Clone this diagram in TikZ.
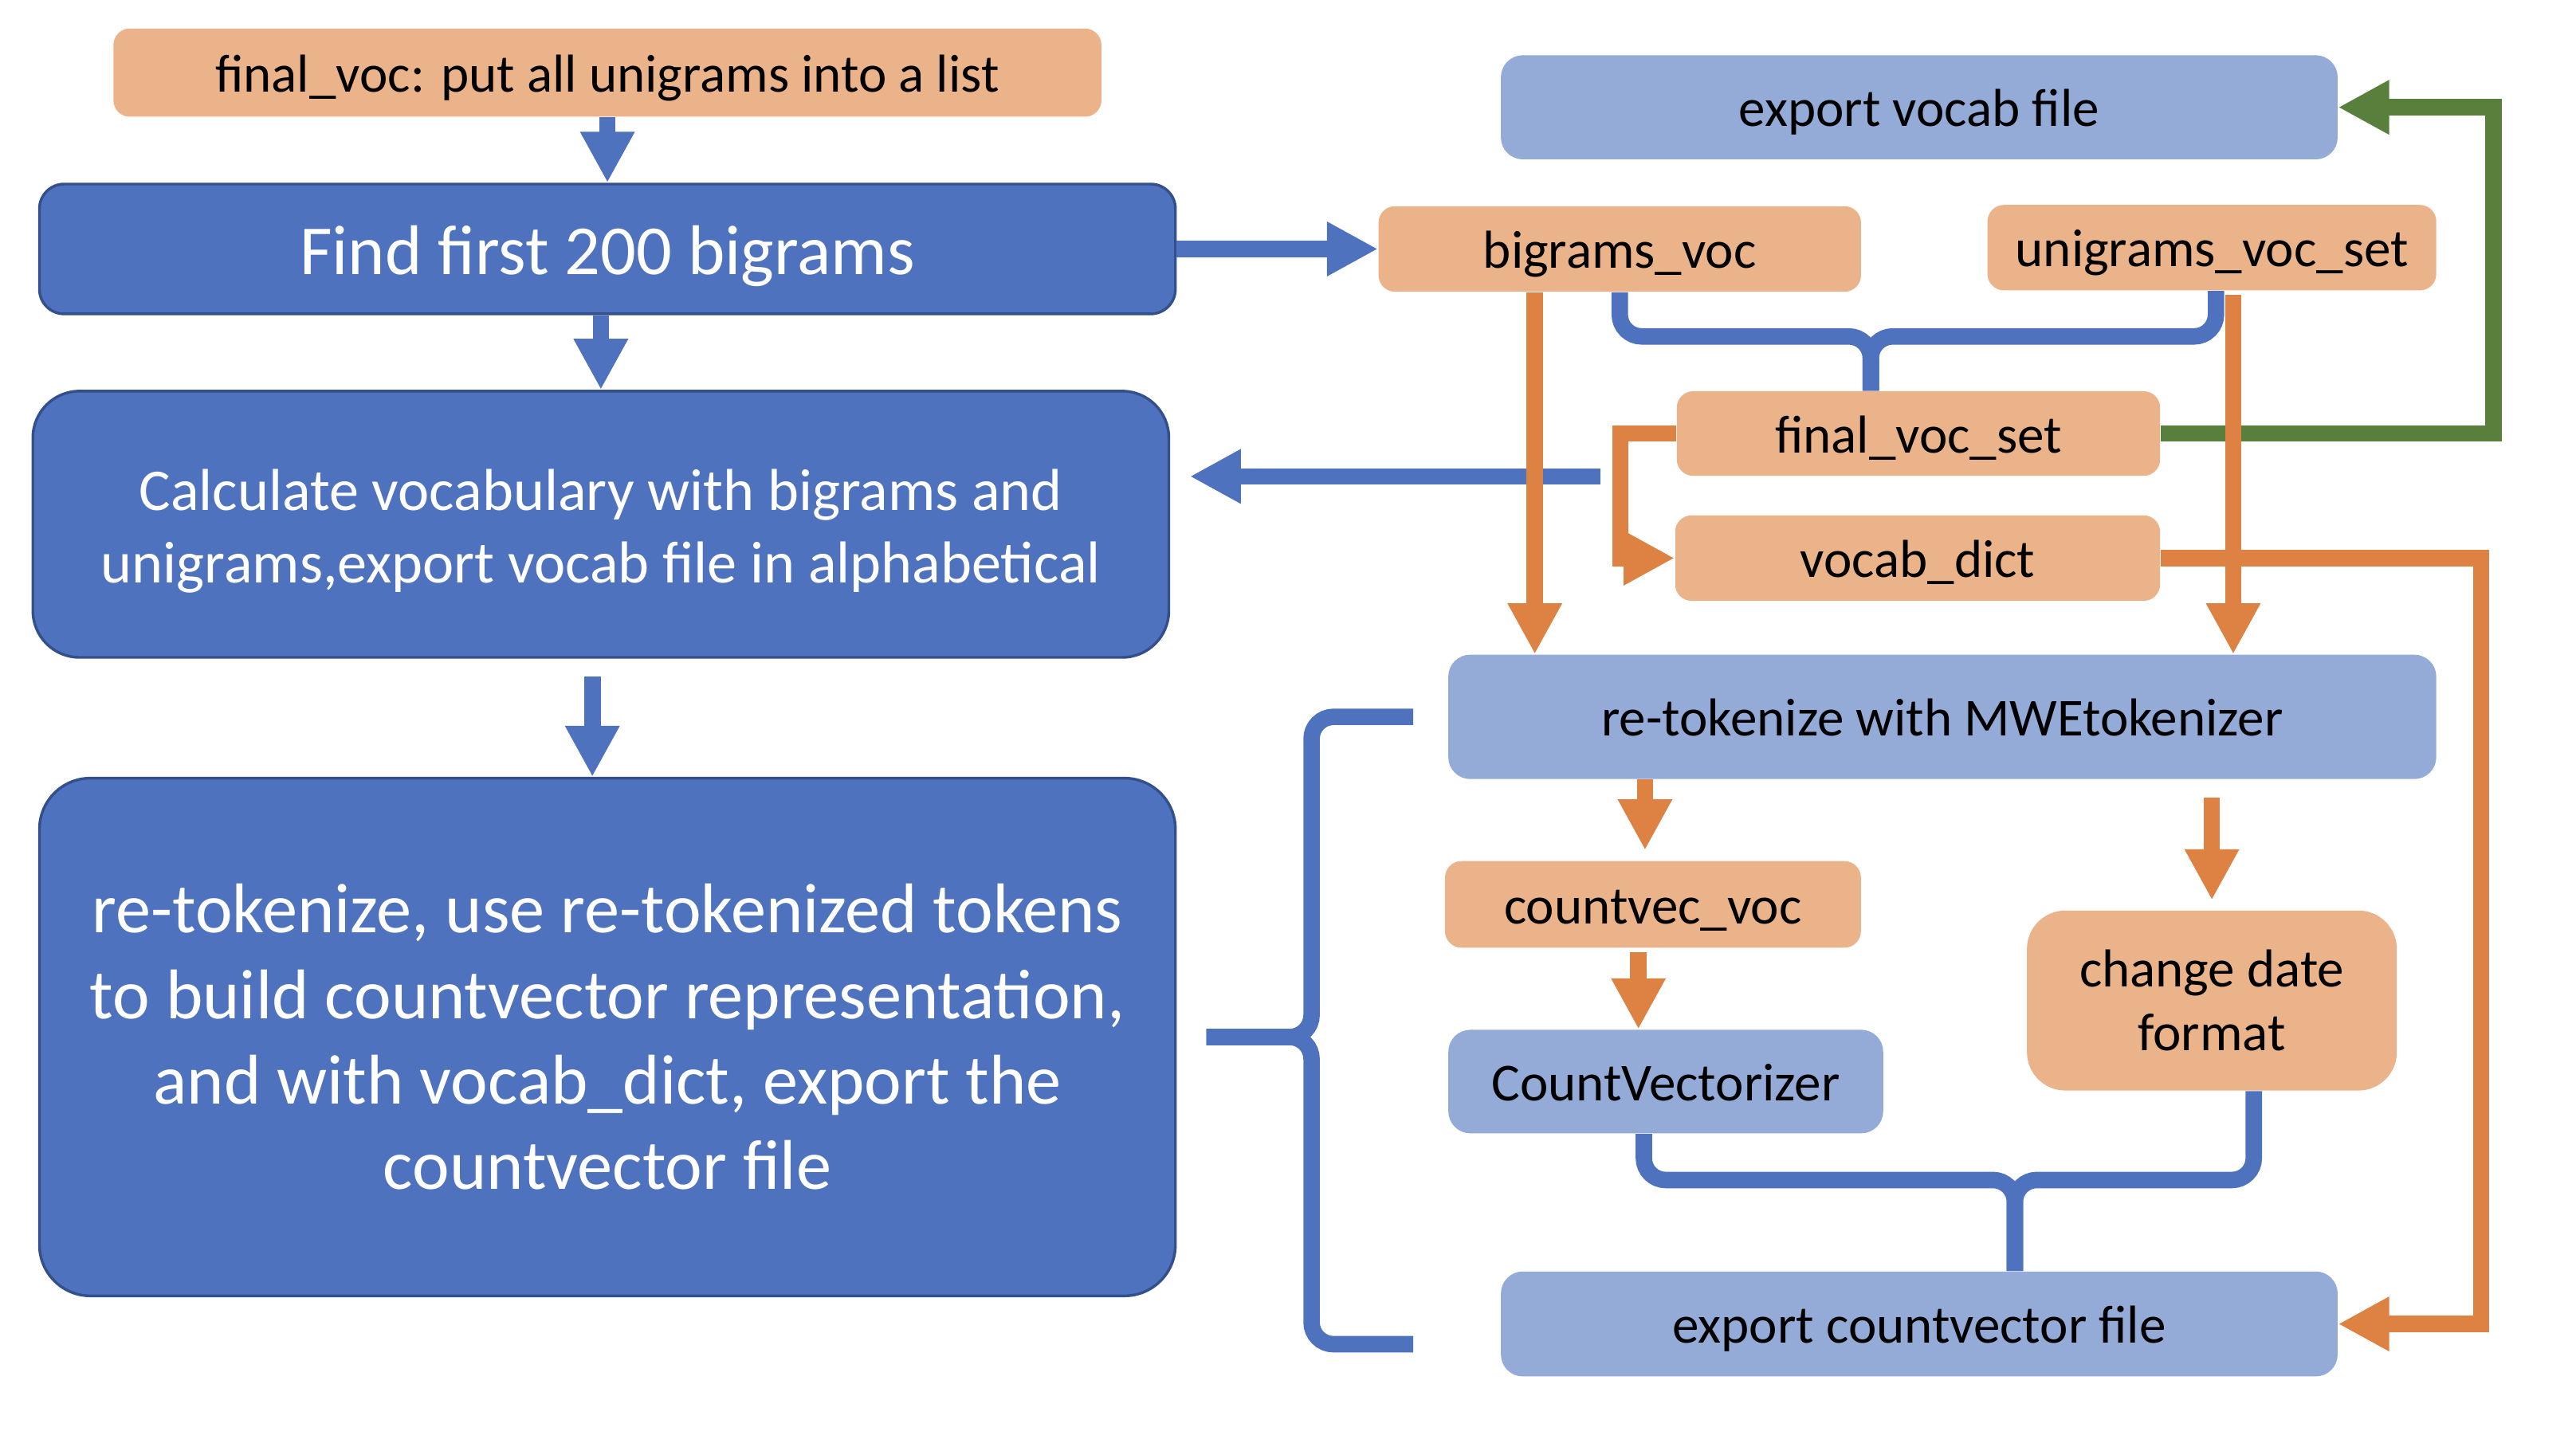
\documentclass[tikz,border=0pt]{standalone}
\usepackage{fontspec}
\setmainfont{Carlito}
\usepackage{tikz}
\usetikzlibrary{arrows.meta}

\definecolor{boxorange}{RGB}{235,179,138}
\definecolor{lineorange}{RGB}{221,130,67}
\definecolor{darkblue}{RGB}{78,114,190}
\definecolor{borderblue}{RGB}{51,80,140}
\definecolor{lightblue}{RGB}{148,171,216}
\definecolor{darkgreen}{RGB}{88,128,60}

\newcommand{\smalltxt}{\fontsize{19.5}{23.4}\selectfont}
\newcommand{\midtxt}{\fontsize{21.6}{26.4}\selectfont}
\newcommand{\bigtxt}{\fontsize{25.7}{31.2}\selectfont}

\tikzset{
  obox/.style={fill=boxorange, rounded corners=6pt, inner sep=0pt, align=center, font=\smalltxt},
  lbbox/.style={fill=lightblue, rounded corners=8pt, inner sep=0pt, align=center, font=\smalltxt},
  dbbox/.style={fill=darkblue, draw=borderblue, line width=1pt, rounded corners=9pt, inner sep=0pt, align=center, text=white},
  oneline/.style={text height=17.9pt, text depth=3.9pt},
  barrow/.style={draw=darkblue, line width=6pt, -{Triangle[length=18.6pt,width=18.6pt]}},
  oarrow/.style={draw=lineorange, line width=6pt, -{Triangle[length=18.6pt,width=18.6pt]}},
  garrow/.style={draw=darkgreen, line width=6pt, -{Triangle[length=18.6pt,width=18.6pt]}},
  bline/.style={draw=darkblue, line width=6pt, rounded corners=8pt},
}

\begin{document}
\begin{tikzpicture}[x=0.6pt,y=0.6pt,yscale=-1]
\useasboundingbox (0,0) rectangle (1567,880);

%Left column
\node[obox, oneline, minimum width=360.6pt, minimum height=32.2pt] (finalvoc) at (369.5,44.2) {final\_voc: put all unigrams into a list};
\node[dbbox, text height=23.6pt, text depth=5.1pt, minimum width=414.6pt, minimum height=47.4pt, font=\bigtxt] (findbig) at (369.5,151.5) {Find first 200 bigrams};
\node[dbbox, rounded corners=17pt, minimum width=414.6pt, minimum height=97.2pt, font=\midtxt] (calcvocab) at (365.5,319) {\rule{0pt}{20pt}Calculate vocabulary with bigrams and\\unigrams,export vocab file in alphabetical};
\node[dbbox, rounded corners=18.6pt, minimum width=414.6pt, minimum height=189pt, font=\bigtxt] (retokbig) at (369.5,631) {re-tokenize, use re-tokenized tokens\\to build countvector representation,\\and with vocab\_dict, export the\\countvector file};

%Right column
\node[lbbox, oneline, minimum width=305.4pt, minimum height=38pt] (exportvocab) at (1167.5,65.3) {export vocab file};
\node[obox, oneline, minimum width=176.1pt, minimum height=31.2pt] (bigramsvoc) at (985.3,151.5) {bigrams\_voc};
\node[obox, oneline, minimum width=163.8pt, minimum height=31.2pt] (unigramsvoc) at (1345.5,150.7) {unigrams\_voc\_set};
\node[obox, oneline, minimum width=176.4pt, minimum height=30.9pt] (finalvocset) at (1167,263.8) {final\_voc\_set};
\node[obox, oneline, minimum width=177pt, minimum height=31.2pt] (vocabdict) at (1166.5,339.6) {vocab\_dict};
\node[lbbox, oneline, minimum width=360.6pt, minimum height=45.4pt] (mwetok) at (1181.5,436.2) {re-tokenize with MWEtokenizer};
\node[obox, oneline, minimum width=151.8pt, minimum height=31.6pt] (countvecvoc) at (1005.5,550.3) {countvec\_voc};
\node[obox, rounded corners=14pt, minimum width=135pt, minimum height=65.7pt] (changedate) at (1345.5,608.8) {change date\\format};
\node[lbbox, oneline, minimum width=158.7pt, minimum height=37.8pt] (countvectorizer) at (1013.3,658.1) {CountVectorizer};
\node[lbbox, oneline, minimum width=305.4pt, minimum height=38.3pt] (exportcv) at (1167.5,805.6) {export countvector file};

%Blue arrows
\draw[barrow] (finalvoc.south) -- (findbig.north);
\draw[barrow] (findbig.south -| calcvocab.north) -- (calcvocab.north);
\coordinate (calcout) at ([xshift=-3.1pt,yshift=6.6pt]calcvocab.south);
\draw[barrow] (calcout) -- (calcout |- retokbig.north);
\draw[barrow] (findbig.east) -- (bigramsvoc.west);
\coordinate (fvleft) at ([xshift=-27.6pt]finalvocset.south west);
\draw[barrow, shorten >=7.2pt] (fvleft) -- (fvleft -| calcvocab.east);

%Green arrow
\draw[garrow] (finalvocset.east) -- ++(202.6,0) |- (exportvocab.east);

%Orange arrows
\coordinate (bgdown) at ([xshift=-31pt]bigramsvoc.south);
\draw[oarrow] (bgdown) -- (bgdown |- mwetok.north);
\coordinate (ugdown) at ([xshift=7.8pt,yshift=1.4pt]unigramsvoc.south);
\draw[oarrow] (ugdown) -- (ugdown |- mwetok.north);
\draw[oarrow] (finalvocset.west) -- ++(-34,0) |- (vocabdict.west);
\draw[oarrow] (vocabdict.east) -- ++(195,0) |- (exportcv.east);
\coordinate (cvvin) at ([xshift=-108.5pt]mwetok.south);
\draw[oarrow, shorten >=3.8pt] (cvvin) -- (cvvin |- countvecvoc.north);
\coordinate (cvin) at ([xshift=-5.3pt,yshift=1.4pt]countvecvoc.south);
\draw[oarrow] (cvin) -- (cvin |- countvectorizer.north);
\coordinate (cdin) at (changedate.north |- mwetok.south);
\draw[oarrow, shorten <=6.6pt, shorten >=3.6pt] (cdin) -- (changedate.north);

%Braces
\coordinate (topjoin) at ([xshift=-17.4pt,yshift=-19.8pt]finalvocset.north);
\draw[bline] (bigramsvoc.south) |- (topjoin) -- (topjoin |- finalvocset.north);
\draw[bline] ([xshift=1.5pt]unigramsvoc.south) |- (topjoin) -- (topjoin |- finalvocset.north);

\coordinate (botjoin) at ([xshift=34.9pt,yshift=-33.2pt]exportcv.north);
\draw[bline] ([xshift=-8pt]countvectorizer.south) |- (botjoin) -- (botjoin |- exportcv.north);
\draw[bline] ([xshift=15.3pt]changedate.south) |- (botjoin) -- (botjoin |- exportcv.north);

\coordinate (brtop) at ([xshift=-12.6pt]mwetok.west);
\coordinate (brbot) at ([xshift=-31.8pt,yshift=7.4pt]exportcv.west);
\coordinate (brtip) at ([xshift=10.8pt]retokbig.east);
\coordinate (brmid) at ([xshift=38.4pt]brtip);
\draw[bline] (brtop) -| (brmid) -- (brtip);
\draw[bline] (brbot) -| (brmid) -- (brtip);

\end{tikzpicture}
\end{document}
